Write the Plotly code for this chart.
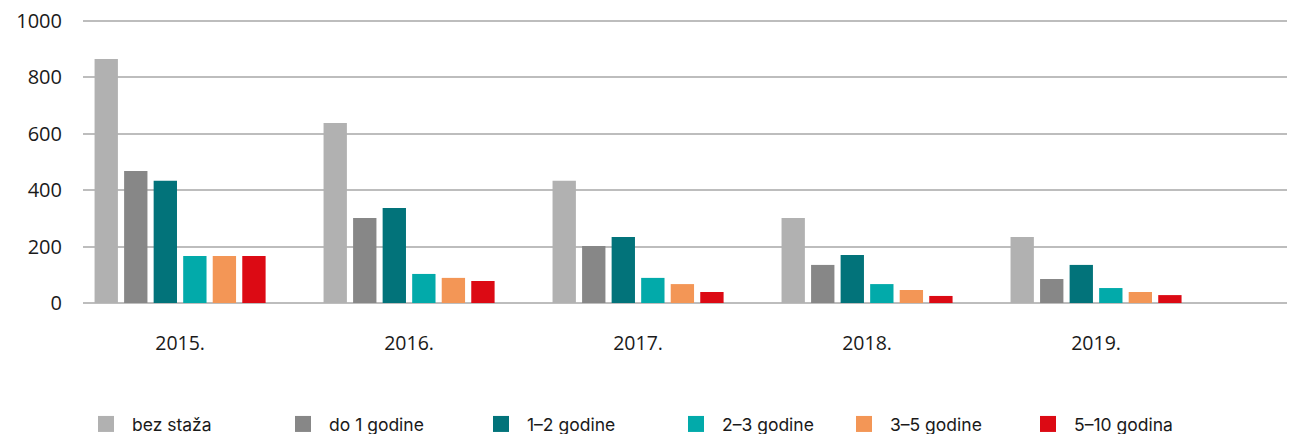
import plotly.graph_objects as go

years = ["2015.", "2016.", "2017.", "2018.", "2019."]

series_labels = ["bez staža", "do 1 godine", "1–2 godine", "2–3 godine", "3–5 godine", "5–10 godina"]
bez_staza = [865, 638, 433, 301, 234]
do_1 = [468, 301, 202, 135, 85]
od_1_do_2 = [433, 337, 234, 170, 135]
od_2_do_3 = [167, 103, 89, 67, 53]
od_3_do_5 = [167, 89, 67, 46, 39]
od_5_do_10 = [167, 78, 39, 25, 28]

colors = ["#b1b1b1", "#878787", "#02737a", "#02aaaa", "#f39656", "#dc0a14"]
legend_px = [95, 292, 490, 685, 853, 1037]

all_values = [bez_staza, do_1, od_1_do_2, od_2_do_3, od_3_do_5, od_5_do_10]

TICK_FONT = "'Open Sans', sans-serif"
LEG_FONT = "Inter, 'Noto Sans', sans-serif"

# page body has an 8px margin, so the figure starts at (8, 8) on screen
OFF = 8
W, H = 1295 - OFF, 434 - OFF
Y_TOP = 1010
px_per_unit = (303 - 21) / 1000
L = 83 - OFF
T = 21 - OFF - (Y_TOP - 1000) * px_per_unit
R = W - (1290 - OFF)
B = H - (303 - OFF)
plot_w = W - L - R
plot_h = H - T - B

fig = go.Figure()

for i, vals in enumerate(all_values):
    fig.add_trace(go.Bar(
        x=years, y=vals,
        name=series_labels[i],
        marker=dict(color=colors[i], line=dict(width=0)),
        showlegend=False,
    ))

# legend proxies (bigger squares than bar legend symbols)
for i in range(len(series_labels)):
    leg = "legend" if i == 0 else f"legend{i+1}"
    fig.add_trace(go.Scatter(
        x=[None], y=[None], mode="markers",
        name=series_labels[i],
        marker=dict(symbol="square", size=18, color=colors[i]),
        legend=leg, showlegend=True,
    ))

legends = {}
for i, px in enumerate(legend_px):
    key = "legend" if i == 0 else f"legend{i+1}"
    legends[key] = dict(
        x=(px - OFF - 15 - L) / plot_w, xanchor="left",
        y=(T + plot_h - (424 - OFF)) / plot_h, yanchor="middle",
        font=dict(family=LEG_FONT, size=17.5, color="#1a1a1a"),
        bgcolor="rgba(0,0,0,0)",
        itemwidth=42,
        itemclick=False, itemdoubleclick=False,
    )

fig.update_layout(
    width=W, height=H,
    margin=dict(l=L, r=R, t=T, b=B, autoexpand=False),
    paper_bgcolor="white",
    plot_bgcolor="white",
    barmode="group",
    bargap=0.226,
    bargroupgap=0.21,
    font=dict(family=TICK_FONT, size=19, color="#1a1a1a"),
    **legends,
)

fig.update_xaxes(
    type="category",
    range=[-0.424, 4.847],
    automargin=False,
    showgrid=False,
    showline=False,
    ticks="",
    ticklabelstandoff=26,
    ticklabeloverflow="allow",
    tickfont=dict(family=TICK_FONT, size=19.5, color="#1a1a1a"),
)

fig.update_yaxes(
    range=[0, Y_TOP],
    automargin=False,
    tickvals=[0, 200, 400, 600, 800, 1000],
    showgrid=True,
    gridcolor="#bdbdbd",
    gridwidth=1.5,
    zeroline=True,
    zerolinecolor="#bdbdbd",
    zerolinewidth=1.5,
    showline=False,
    ticks="",
    ticklabelstandoff=20,
    ticklabeloverflow="allow",
    tickfont=dict(family=TICK_FONT, size=20, color="#1a1a1a"),
)

fig.write_html("out.html")
